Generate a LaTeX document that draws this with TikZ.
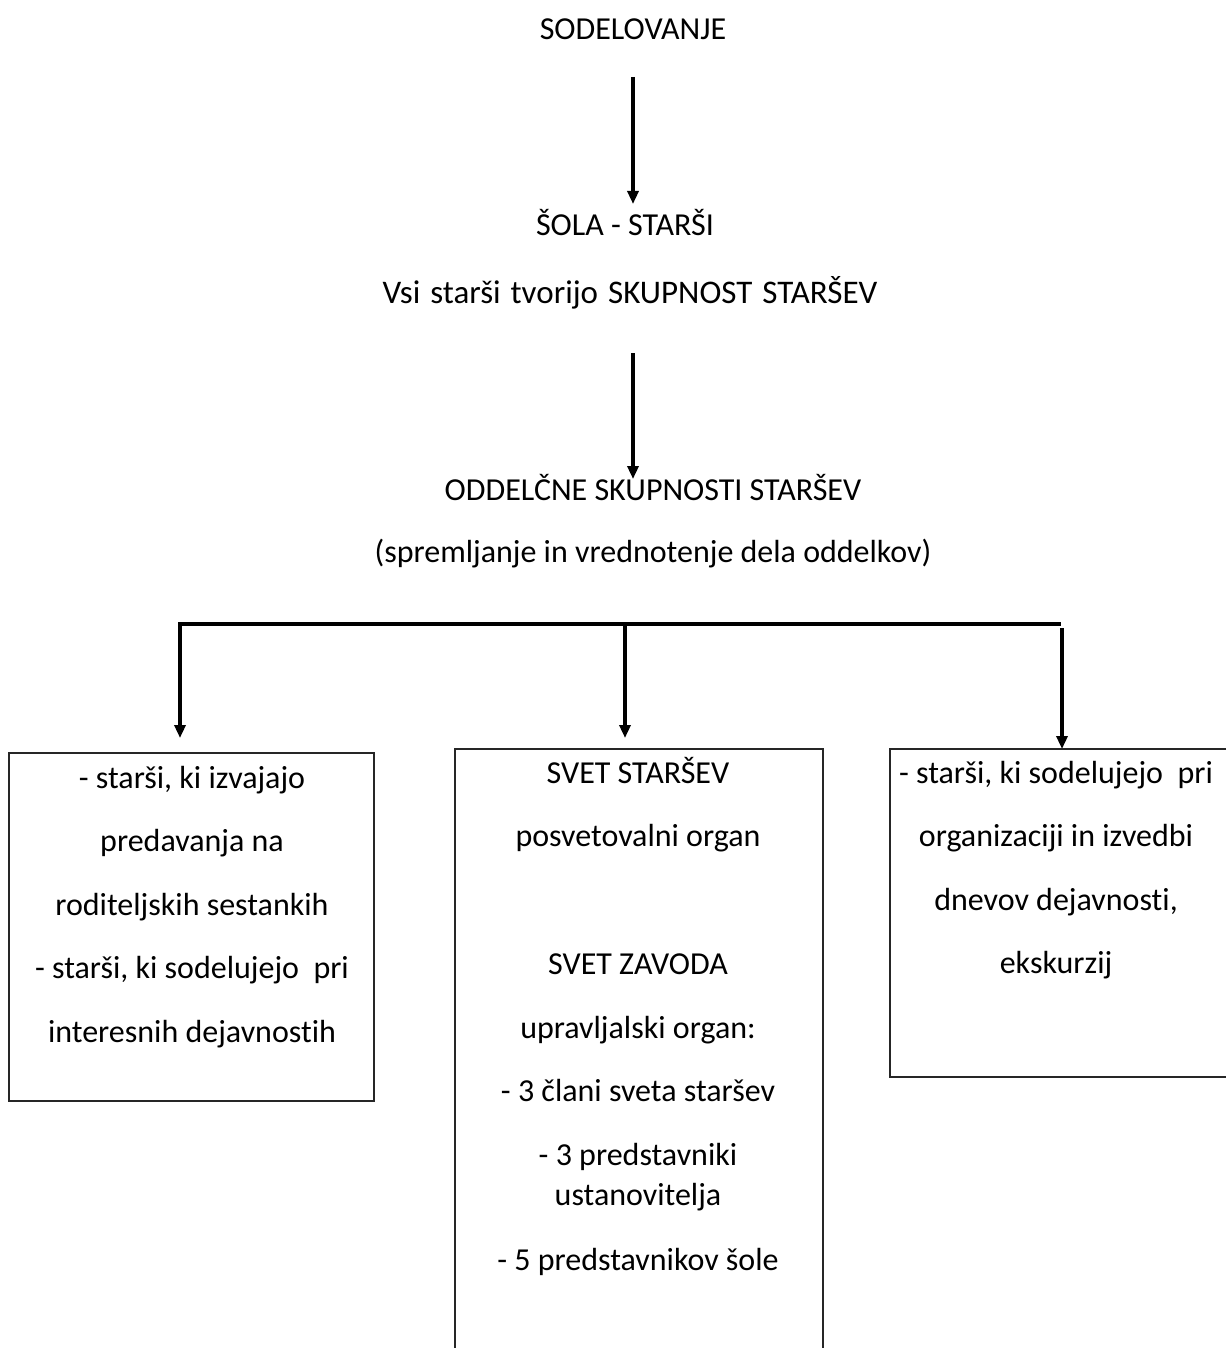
\documentclass[tikz,border=0pt]{standalone}
\usepackage{fontspec}
\setmainfont{Carlito}[Ligatures=NoCommon]
\usetikzlibrary{arrows.meta}
\begin{document}
\begin{tikzpicture}[x=1pt,y=-1pt,
  txt/.style={anchor=base,inner sep=0pt,font=\fontsize{32}{38}\selectfont},
  arr/.style={line width=4pt,-{Triangle[width=11pt,length=13pt]}},
  bar/.style={line width=4.5pt},
  boxline/.style={line width=1.3pt,draw=black!85}]
\useasboundingbox[fill=white] (0,0) rectangle (1226,1348);
% top texts
\node[txt] (sodel) at (633,40) {SODELOVANJE};
\node[txt] (sola) at (625,236) {ŠOLA - STARŠI};
\node[txt,font=\fontsize{33}{38}\selectfont] (vsi) at (630,303) {Vsi\hspace{10pt}starši\hspace{10pt}tvorijo\hspace{10pt}SKUPNOST\hspace{10pt}STARŠEV};
\node[txt] (odd) at (653,500) {ODDELČNE SKUPNOSTI STARŠEV};
\node[txt] (sprem) at (653,562) {(spremljanje in vrednotenje dela oddelkov)};
% arrow anchors
\coordinate (a1s) at (633,77);
\coordinate (a1e) at (633,204);
\coordinate (a2s) at (633,353);
\coordinate (a2e) at (633,479);
\coordinate (hl) at (178,624);
\coordinate (hm) at (625,624);
\coordinate (hr) at (1061,624);
\coordinate (lt) at (180,738);
\coordinate (mt) at (625,738);
\coordinate (rs) at (1062,628);
\coordinate (rt) at (1062,749);
\draw[arr] (a1s) -- (a1e);
\draw[arr] (a2s) -- (a2e);
\draw[bar] (hl) -- (hr);
\draw[arr] ([yshift=-2.25pt]hl -| lt) -- (lt);
\draw[arr] (hm) -- (mt);
\draw[arr] (rs) -- (rt);
% boxes
\draw[boxline] (9,753) rectangle (374,1101);
\draw[boxline] (455,1348) -- (455,749) -- (823,749) -- (823,1348);
\draw[boxline] (1226,749) -- (890,749) -- (890,1077) -- (1226,1077);
% left box
\node[txt] (l1) at (192,788) {- starši, ki izvajajo};
\node[txt] (l2) at (192,851) {predavanja na};
\node[txt] (l3) at (192,915) {roditeljskih sestankih};
\node[txt] (l4) at (192,978) {- starši, ki sodelujejo\ \ pri};
\node[txt] (l5) at (192,1042) {interesnih dejavnostih};
% middle box
\node[txt] (m1) at (638,783) {SVET STARŠEV};
\node[txt] (m2) at (638,846) {posvetovalni organ};
\node[txt] (m3) at (638,974) {SVET ZAVODA};
\node[txt] (m4) at (638,1038) {upravljalski organ:};
\node[txt] (m5) at (638,1101) {- 3 člani sveta staršev};
\node[txt] (m6) at (638,1165) {- 3 predstavniki};
\node[txt] (m7) at (638,1205) {ustanovitelja};
\node[txt] (m8) at (638,1270) {- 5 predstavnikov šole};
% right box
\node[txt] (r1) at (1056,783) {- starši, ki sodelujejo\ \ pri};
\node[txt] (r2) at (1056,846) {organizaciji in izvedbi};
\node[txt] (r3) at (1056,910) {dnevov dejavnosti,};
\node[txt] (r4) at (1056,973) {ekskurzij};
\end{tikzpicture}
\end{document}
